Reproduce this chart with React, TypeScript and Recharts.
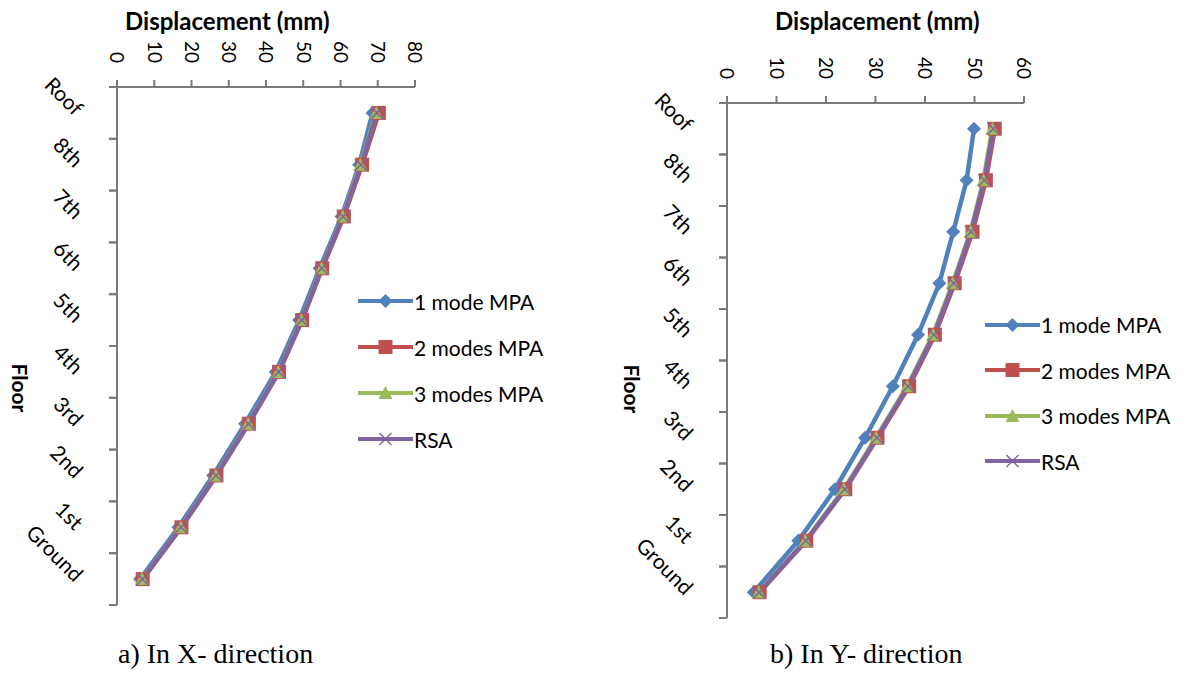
import React from "react";
import { LineChart, Line, XAxis, YAxis } from "recharts";

// floors, bottom to top
const floors = ["Ground", "1st", "2nd", "3rd", "4th", "5th", "6th", "7th", "8th", "Roof"];

// a) X-direction displacements (mm)
const xOneMode = [6.2, 16.5, 25.8, 34.4, 42.6, 48.9, 54.4, 60.3, 65.0, 68.6];
const xTwoModes = [6.9, 17.3, 26.7, 35.4, 43.5, 49.7, 55.1, 60.9, 65.8, 70.3];
const xThreeModes = [6.7, 17.1, 26.5, 35.2, 43.3, 49.5, 54.9, 60.6, 65.3, 69.6];
const xRsa = [6.8, 17.2, 26.6, 35.3, 43.4, 49.6, 55.0, 60.7, 65.5, 69.8];

// b) Y-direction displacements (mm)
const yOneMode = [5.4, 14.4, 21.8, 27.9, 33.5, 38.6, 42.9, 45.7, 48.4, 49.9];
const yTwoModes = [6.6, 16.0, 23.9, 30.4, 36.8, 42.0, 46.0, 49.6, 52.3, 54.1];
const yThreeModes = [6.4, 15.8, 23.6, 30.1, 36.4, 41.6, 45.6, 49.2, 51.8, 53.6];
const yRsa = [6.5, 15.9, 23.8, 30.3, 36.6, 41.8, 45.8, 49.3, 52.0, 53.8];

const xTicksA = [0, 10, 20, 30, 40, 50, 60, 70, 80];
const xTicksB = [0, 10, 20, 30, 40, 50, 60];

const seriesNames = ["1 mode MPA", "2 modes MPA", "3 modes MPA", "RSA"];
const colors = ["#4F81BD", "#C0504D", "#9BBB59", "#8064A2"];

const FONT = "Lato, 'Open Sans', sans-serif";
const AXIS_GREY = "#7a7a7a";

const buildRows = (a: number[], b: number[], c: number[], d: number[]) =>
  floors.map((f, i) => ({ floor: f, m1: a[i], m2: b[i], m3: c[i], rsa: d[i] }));

const dataA = buildRows(xOneMode, xTwoModes, xThreeModes, xRsa);
const dataB = buildRows(yOneMode, yTwoModes, yThreeModes, yRsa);

const Marker = ({ kind, cx, cy }: { kind: number; cx: number; cy: number }) => {
  const c = colors[kind];
  if (kind === 0)
    return <polygon points={`${cx},${cy - 7} ${cx + 7},${cy} ${cx},${cy + 7} ${cx - 7},${cy}`} fill={c} />;
  if (kind === 1) return <rect x={cx - 7} y={cy - 7} width={14} height={14} fill={c} />;
  if (kind === 2)
    return <polygon points={`${cx},${cy - 7} ${cx + 7},${cy + 6} ${cx - 7},${cy + 6}`} fill={c} />;
  return (
    <g stroke={c} strokeWidth={1.5}>
      <line x1={cx - 6} y1={cy - 6} x2={cx + 6} y2={cy + 6} />
      <line x1={cx - 6} y1={cy + 6} x2={cx + 6} y2={cy - 6} />
    </g>
  );
};

const makeDot = (kind: number) => (props: any) => {
  if (props.cx == null || props.cy == null) return <g key={`e${kind}-${props.index}`} />;
  return (
    <g key={`d${kind}-${props.index}`}>
      <Marker kind={kind} cx={props.cx} cy={props.cy} />
    </g>
  );
};

const TopTick = (props: any) => {
  const { x, y, payload } = props;
  return (
    <text
      x={x}
      y={y}
      transform={`rotate(90 ${x} ${y})`}
      textAnchor="end"
      dy="0.35em"
      fontFamily={FONT}
      fontSize={19}
      fill="#000"
    >
      {payload.value}
    </text>
  );
};

// category label plus tick marks on the band edges (Excel style "between" ticks)
const FloorTick = (props: any) => {
  const { x, y, payload, visibleTicksCount, height } = props;
  const off =
    payload.offset != null && payload.offset > 0
      ? payload.offset
      : height && visibleTicksCount
      ? height / (2 * visibleTicksCount)
      : 0;
  const ax = x - 43;
  const ay = y + 4;
  return (
    <g>
      <line x1={x - 8} y1={y - off} x2={x} y2={y - off} stroke={AXIS_GREY} strokeWidth={2} />
      <line x1={x - 8} y1={y + off} x2={x} y2={y + off} stroke={AXIS_GREY} strokeWidth={2} />
      <text
        x={ax}
        y={ay}
        transform={`rotate(45 ${ax} ${ay})`}
        textAnchor="end"
        fontFamily={FONT}
        fontSize={21}
        fill="#000"
      >
        {payload.value}
      </text>
    </g>
  );
};

const LegendBox = ({ left, top, rowGap }: { left: number; top: number; rowGap: number }) => (
  <div style={{ position: "absolute", left, top, fontFamily: FONT, fontSize: 21, color: "#000" }}>
    {seriesNames.map((n, i) => (
      <div key={n} style={{ display: "flex", alignItems: "center", height: rowGap, whiteSpace: "nowrap" }}>
        <svg width={55} height={18} style={{ marginRight: 1 }}>
          <line x1={0} y1={9} x2={55} y2={9} stroke={colors[i]} strokeWidth={4} />
          <Marker kind={i} cx={27.5} cy={9} />
        </svg>
        <span>{n}</span>
      </div>
    ))}
  </div>
);

type PanelProps = {
  data: any[];
  xMax: number;
  xTicks: number[];
  width: number;
  height: number;
  margin: { top: number; left: number; right: number; bottom: number };
};

const Panel = ({ data, xMax, xTicks, width, height, margin }: PanelProps) => (
  <LineChart layout="vertical" width={width} height={height} data={data} margin={margin}>
    <XAxis
      type="number"
      orientation="top"
      domain={[0, xMax]}
      ticks={xTicks}
      height={30}
      tickSize={7}
      tickMargin={17}
      stroke="#7a7a7a"
      strokeWidth={2}
      tick={<TopTick />}
    />
    <YAxis
      type="category"
      scale="band"
      dataKey="floor"
      reversed
      width={1}
      tickSize={0}
      tickMargin={0}
      tickLine={false}
      stroke={AXIS_GREY}
      axisLine={{ stroke: AXIS_GREY, strokeWidth: 2 }}
      tick={<FloorTick />}
      interval={0}
    />
    {["m1", "m2", "m3", "rsa"].map((k, i) => (
      <Line
        key={k}
        dataKey={k}
        name={seriesNames[i]}
        stroke={colors[i]}
        strokeWidth={4.5}
        dot={makeDot(i)}
        activeDot={false}
        isAnimationActive={false}
      />
    ))}
  </LineChart>
);

const titleStyle: React.CSSProperties = {
  position: "absolute",
  fontFamily: FONT,
  fontWeight: 700,
  fontSize: 24,
  color: "#000",
  whiteSpace: "nowrap",
};

const floorStyle: React.CSSProperties = {
  position: "absolute",
  width: 60,
  height: 26,
  lineHeight: "26px",
  textAlign: "center",
  fontFamily: FONT,
  fontWeight: 700,
  fontSize: 21,
  color: "#000",
  transform: "rotate(90deg)",
  transformOrigin: "center",
};

const captionStyle: React.CSSProperties = {
  position: "absolute",
  fontFamily: "'Liberation Serif', 'Times New Roman', serif",
  fontSize: 28,
  color: "#000",
  whiteSpace: "nowrap",
};

export default function App() {
  return (
    <div style={{ position: "absolute", left: 0, top: 0, width: 1193, height: 675, background: "#fff", overflow: "hidden" }}>
      <div style={{ position: "absolute", left: 0, top: 0 }}>
        <Panel
          data={dataA}
          xMax={80}
          xTicks={xTicksA}
          width={600}
          height={675}
          margin={{ top: 57, left: 116, right: 185, bottom: 70 }}
        />
      </div>
      <div style={{ position: "absolute", left: 600, top: 0 }}>
        <Panel
          data={dataB}
          xMax={60}
          xTicks={xTicksB}
          width={593}
          height={675}
          margin={{ top: 73, left: 126, right: 169, bottom: 57 }}
        />
      </div>
      <LegendBox left={358} top={278} rowGap={46} />
      <LegendBox left={985} top={302} rowGap={45.5} />
      <div style={{ ...titleStyle, left: 125, top: 6 }}>Displacement (mm)</div>
      <div style={{ ...titleStyle, left: 775, top: 6 }}>Displacement (mm)</div>
      <div style={{ ...floorStyle, left: -10, top: 375 }}>Floor</div>
      <div style={{ ...floorStyle, left: 602, top: 376 }}>Floor</div>
      <div style={{ ...captionStyle, left: 118, top: 638 }}>a) In X- direction</div>
      <div style={{ ...captionStyle, left: 770, top: 638 }}>b) In Y- direction</div>
    </div>
  );
}
